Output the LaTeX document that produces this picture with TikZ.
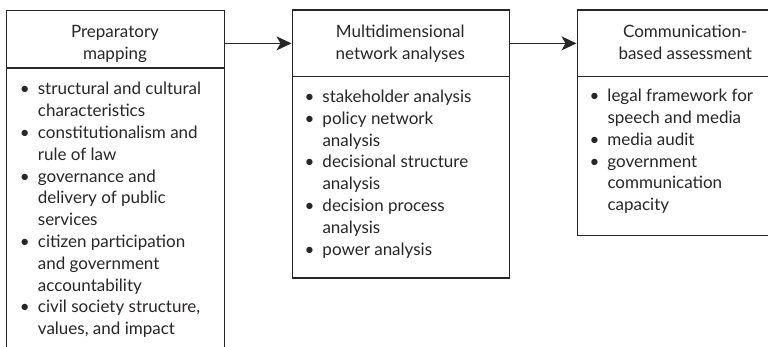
\documentclass[tikz,border=0pt]{standalone}
\usepackage{fontspec}
\setmainfont{Lato}
\usetikzlibrary{arrows.meta}
\definecolor{ink}{RGB}{40,38,38}
\newcommand{\itm}{\llap{\makebox[26pt]{\textbullet}}}
\begin{document}
\begin{tikzpicture}[x=1pt,y=-1pt,
  box/.style={draw=ink,line width=1.25pt,rectangle,inner sep=0pt,anchor=north west},
  txt/.style={inner sep=0pt,text=ink,font=\fontsize{17}{21.8}\selectfont},
  arr/.style={draw=ink,line width=1.25pt,-{Stealth[length=15pt,width=14pt,inset=4pt]}}]
\useasboundingbox (0,0) rectangle (768,347);
\clip (0,0) rectangle (768,347);
\fill[white] (0,0) rectangle (768,347);
% box 1
\node[box,minimum width=218pt,minimum height=57.5pt] (b1t) at (6,10) {};
\node[box,minimum width=218pt,minimum height=300pt] (b1b) at (6,67.5) {};
% box 2
\node[box,minimum width=217.5pt,minimum height=66.5pt] (b2t) at (291.5,9.5) {};
\node[box,minimum width=217.5pt,minimum height=201.5pt] (b2b) at (291.5,76) {};
% box 3
\node[box,minimum width=217.5pt,minimum height=66.5pt] (b3t) at (576.5,9.5) {};
\node[box,minimum width=217.5pt,minimum height=159pt] (b3b) at (576.5,76) {};
% titles
\node[txt,anchor=base] (h1) at (115,37.7) {\begin{tabular}[t]{@{}c@{}}Preparatory\\mapping\end{tabular}};
\node[txt,anchor=base] (h2) at (400.25,37.7) {\begin{tabular}[t]{@{}c@{}}Multidimensional\\network analyses\end{tabular}};
\node[txt,anchor=base] (h3) at (685.25,37.7) {\begin{tabular}[t]{@{}c@{}}Communication-\\based assessment\end{tabular}};
% lists
\node[txt,anchor=base west] (l1) at (37.7,94.9) {\begin{tabular}[t]{@{}l@{}}
\itm structural and cultural\\ characteristics\\
\itm constitutionalism and\\ rule of law\\
\itm governance and\\ delivery of public\\ services\\
\itm citizen participation\\ and government\\ accountability\\
\itm civil society structure,\\ values, and impact\end{tabular}};
\node[txt,anchor=base west] (l2) at (322.3,102.5) {\begin{tabular}[t]{@{}l@{}}
\itm stakeholder analysis\\
\itm policy network\\ analysis\\
\itm decisional structure\\ analysis\\
\itm decision process\\ analysis\\
\itm power analysis\end{tabular}};
\node[txt,anchor=base west] (l3) at (607.3,101.7) {\begin{tabular}[t]{@{}l@{}}
\itm legal framework for\\ speech and media\\
\itm media audit\\
\itm government\\ communication\\ capacity\end{tabular}};
% arrows
\draw[arr] (b1t.east |- b2t.west) -- (b2t.west);
\draw[arr] (b2t.east) -- (b3t.west);
\end{tikzpicture}
\end{document}
